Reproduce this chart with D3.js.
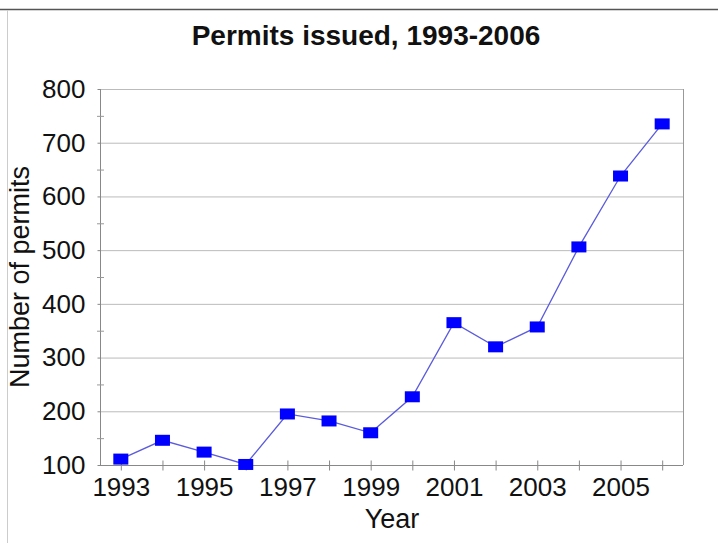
<!DOCTYPE html>
<html><head><meta charset="utf-8">
<script src="https://cdn.jsdelivr.net/npm/d3@7"></script>
<style>body{margin:0;background:#fff}svg{display:block}text{font-family:"Liberation Sans",Arial,sans-serif}</style>
</head><body>
<script>
const years = [1993,1994,1995,1996,1997,1998,1999,2000,2001,2002,2003,2004,2005,2006];
const permits = [111,146,124,101,195,182,160,227,365,320,357,506,638,735];
const yTicks = [100,200,300,400,500,600,700,800];
const yMinor = [150,250,350,450,550,650,750];
const xLabels = [1993,1995,1997,1999,2001,2003,2005];
const title = "Permits issued, 1993-2006";
const xTitle = "Year";
const yTitle = "Number of permits";

const W = 718, H = 543;
const m = {l:100, r:35, t:89, b:78};
const svg = d3.select("body").append("svg").attr("width",W).attr("height",H);

// frame lines
svg.append("line").attr("x1",0).attr("x2",W).attr("y1",9.5).attr("y2",9.5).attr("stroke","#555").attr("stroke-width",1.5);
svg.append("line").attr("x1",7.5).attr("x2",7.5).attr("y1",10).attr("y2",H).attr("stroke","#ccc");

const x = d3.scaleLinear().domain([1992.5,2006.5]).range([m.l, W-m.r]);
const y = d3.scaleLinear().domain([100,800]).range([H-m.b, m.t]);

const g = svg.append("g");
// gridlines
g.selectAll(".grid").data(yTicks.slice(1)).join("line")
  .attr("x1",m.l).attr("x2",W-m.r).attr("y1",d=>y(d)+0.5).attr("y2",d=>y(d)+0.5)
  .attr("stroke","#bbb");
// plot border right
g.append("line").attr("x1",W-m.r+0.5).attr("x2",W-m.r+0.5).attr("y1",m.t).attr("y2",H-m.b).attr("stroke","#999");

// y axis
const ya = g.append("g").attr("transform",`translate(${m.l+0.5},0)`)
  .call(d3.axisLeft(y).tickValues(yTicks).tickSize(3).tickPadding(12).tickFormat(d3.format("d")));
ya.selectAll("text").attr("font-size",26).attr("fill","#111").attr("font-family","Liberation Sans, Arial, sans-serif");
ya.selectAll("line, path").attr("stroke","#888");
ya.select(".domain").attr("d",`M0,${m.t}V${H-m.b}`);
// y minor ticks
g.selectAll(".ym").data(yMinor).join("line")
  .attr("x1",m.l-3).attr("x2",m.l+4).attr("y1",d=>y(d)+0.5).attr("y2",d=>y(d)+0.5).attr("stroke","#999");

// x axis
const xa = g.append("g").attr("transform",`translate(0,${H-m.b+0.5})`)
  .call(d3.axisBottom(x).tickValues(years).tickSize(5).tickPadding(7)
    .tickFormat(d=> xLabels.includes(d) ? d : ""));
xa.selectAll("text").attr("font-size",26).attr("fill","#111").attr("font-family","Liberation Sans, Arial, sans-serif");
xa.selectAll("line, path").attr("stroke","#888");
xa.select(".domain").attr("d",`M${m.l},0H${W-m.r}`);
xa.selectAll(".tick line").attr("y1",-5);

// line
const pts = years.map((yr,i)=>[yr,permits[i]]);
g.append("path").datum(pts)
  .attr("d",d3.line().x(d=>x(d[0])).y(d=>y(d[1])))
  .attr("fill","none").attr("stroke","#5b5bdc").attr("stroke-width",1.3);
g.selectAll(".mk").data(pts).join("rect")
  .attr("x",d=>x(d[0])-7.5).attr("y",d=>y(d[1])-5.5).attr("width",15).attr("height",11)
  .attr("fill","#0000ff");

// titles
svg.append("text").attr("x",366).attr("y",45).attr("text-anchor","middle")
  .attr("font-size",28).attr("font-weight","bold").attr("fill","#111").text(title);
svg.append("text").attr("x",392).attr("y",528).attr("text-anchor","middle")
  .attr("font-size",27).attr("fill","#111").text(xTitle);
svg.append("text").attr("transform","translate(29,277) rotate(-90)").attr("text-anchor","middle")
  .attr("font-size",27).attr("fill","#111").text(yTitle);
</script>
</body></html>
